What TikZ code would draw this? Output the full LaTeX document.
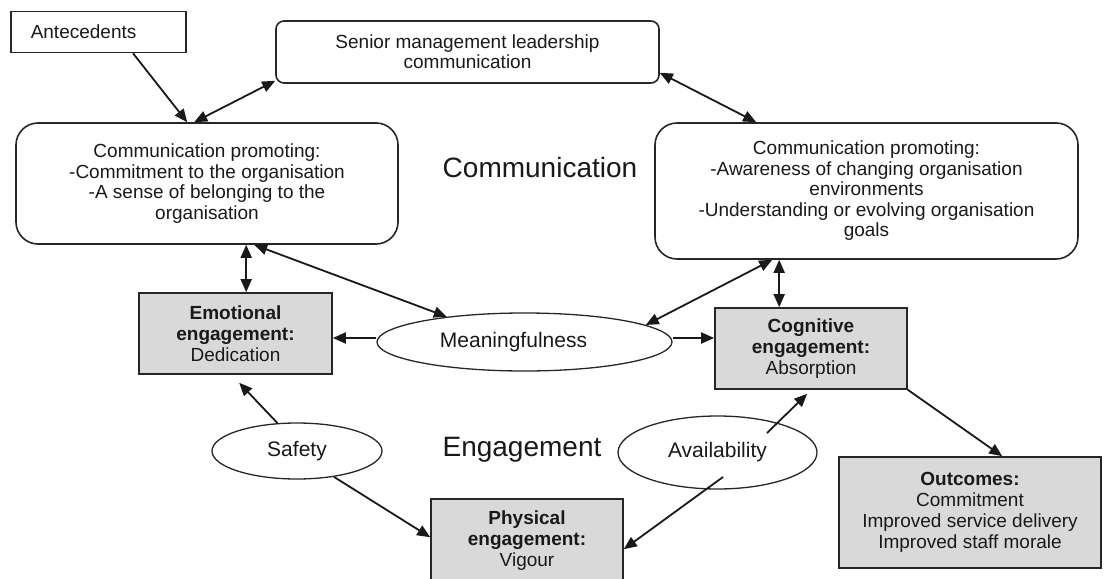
\documentclass[tikz,border=0pt]{standalone}
\usepackage{fontspec}
\setmainfont{Liberation Sans}
\usetikzlibrary{arrows.meta,shapes.geometric}
\begin{document}
\begin{tikzpicture}[x=1pt,y=-1pt,
  every node/.style={font=\fontsize{19}{21}\selectfont, text=black!90, inner sep=0pt},
  rbox/.style={draw=black!85, line width=1.6pt, rounded corners=22pt, align=center},
  gbox/.style={draw=black!85, line width=1.6pt, fill=black!15, align=center},
  oval/.style={ellipse, draw=black!85, line width=1.3pt, font=\fontsize{21}{23}\selectfont},
  tip/.tip={Triangle[length=13pt,width=11pt]},
  conn/.style={line width=1.8pt, draw=black!90, -tip},
  dconn/.style={line width=1.8pt, draw=black!90, tip-tip},
  big/.style={font=\fontsize{28}{30}\selectfont}
]
\useasboundingbox (0,0) rectangle (1105,578);
\clip (0,0) rectangle (1105,578);

% nodes
\node[draw=black!85, line width=1.5pt, minimum height=41pt, text width=135pt, inner xsep=20pt, align=left, anchor=west] (ant) at (10,32) {Antecedents};
\node[rbox, rounded corners=8pt, minimum width=383pt, minimum height=62pt, font=\fontsize{19}{20}\selectfont] (senior) at (467.5,52) {Senior management leadership\\communication};
\node[rbox, minimum width=382pt, minimum height=121pt, font=\fontsize{19}{20.5}\selectfont] (lcomm) at (207,183.5) {Communication promoting:\\-Commitment to the organisation\\-A sense of belonging to the\\organisation};
\node[rbox, minimum width=423pt, minimum height=136pt, font=\fontsize{19}{20.5}\selectfont] (rcomm) at (866.5,191) {Communication promoting:\\-Awareness of changing organisation\\environments\\-Understanding or evolving organisation\\goals};
\node[big] (commtext) at (540,167) {Communication};
\node[gbox, minimum width=193pt, minimum height=81pt] (emo) at (235.5,333.5) {\textbf{Emotional}\\\textbf{engagement:}\\Dedication};
\node[oval, minimum width=295pt, minimum height=58pt] (mean) at (524.5,342) {\hspace*{-22pt}Meaningfulness};
\node[gbox, minimum width=192pt, minimum height=81pt] (cog) at (811,348.5) {\textbf{Cognitive}\\\textbf{engagement:}\\Absorption};
\node[oval, minimum width=170pt, minimum height=56pt] (safety) at (297,451) {Safety};
\node[big] (engtext) at (522,450) {Engagement};
\node[oval, minimum width=199pt, minimum height=73pt] (avail) at (717.5,452.5) {Availability};
\node[gbox, minimum width=192pt, minimum height=84pt] (phys) at (527,541) {\textbf{Physical}\\\textbf{engagement:}\\Vigour};
\node[gbox, minimum width=262pt, minimum height=111pt] (out) at (970,512.5) {\textbf{Outcomes:}\\Commitment\\Improved service delivery\\Improved staff morale};

% connectors
\draw[conn] ([xshift=123pt]ant.south west) -- ([xshift=172pt]lcomm.north west);
\draw[dconn] ([xshift=179pt]lcomm.north west) -- ([yshift=3pt]senior.south west);
\draw[dconn] ([yshift=11pt]senior.south east) -- ([xshift=102pt]rcomm.north west);
\draw[dconn] ([xshift=231pt]lcomm.south west) -- ([xshift=108pt]emo.north west);
\draw[dconn] ([xshift=239pt]lcomm.south west) -- (mean.162);
\draw[dconn] ([xshift=118pt]rcomm.south west) -- (mean.8);
\draw[dconn] ([xshift=125pt]rcomm.south west) -- ([xshift=65pt]cog.north west);
\draw[conn] ([yshift=4pt]mean.west) -- ([yshift=-4.5pt]emo.east);
\draw[conn] ([yshift=4pt]mean.east) -- ([yshift=10.5pt]cog.west);
\draw[conn] (safety.125) -- ([xshift=101pt,yshift=-8pt]emo.south west);
\draw[conn] (safety.-35) -- ([yshift=-39pt]phys.north west);
\draw[conn] ([xshift=49.5pt,yshift=19.5pt]avail.center) -- ([xshift=93pt,yshift=-4pt]cog.south west);
\draw[conn] ([xshift=5.5pt,yshift=-24.5pt]avail.center) -- ([yshift=-51pt]phys.north east);
\draw[conn] (cog.south east) -- ([xshift=164pt]out.north west);
\end{tikzpicture}
\end{document}
